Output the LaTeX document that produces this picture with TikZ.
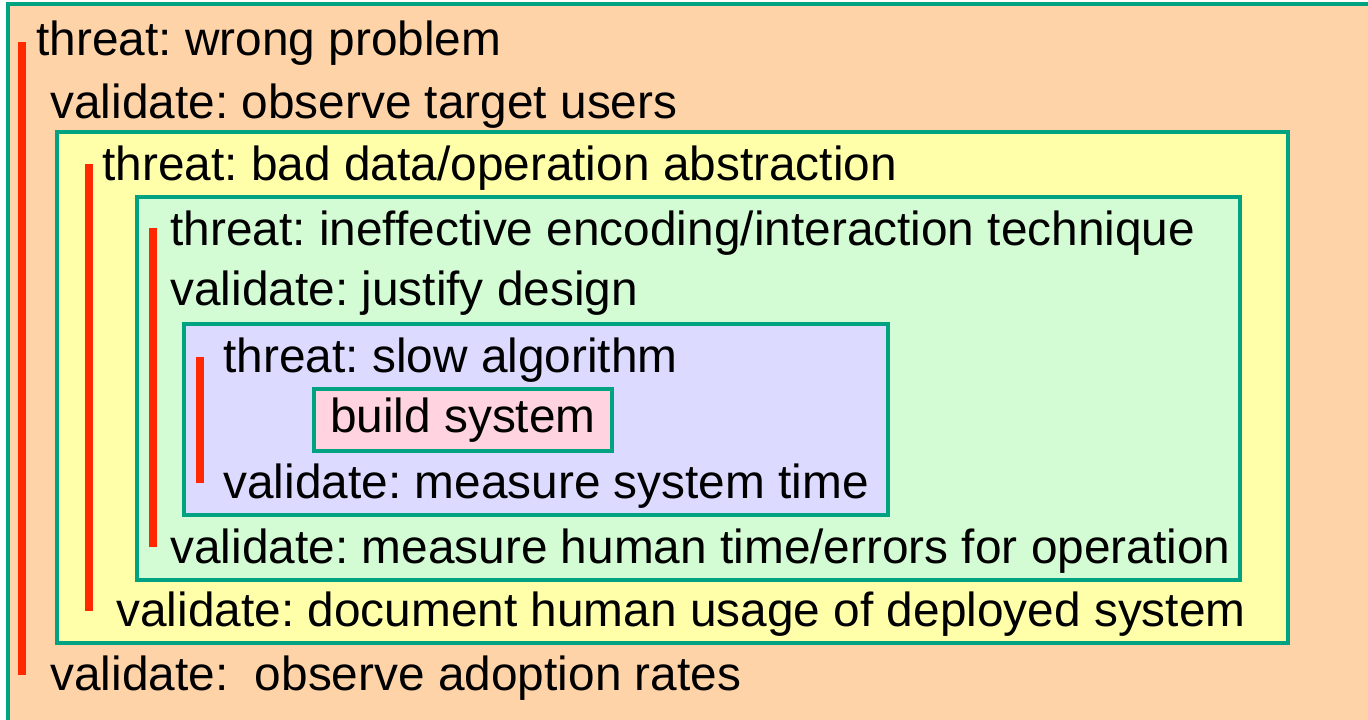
\documentclass[tikz,border=0pt]{standalone}
\usepackage{fontspec}
\setmainfont{Liberation Sans}
\usepackage{tikz}
\usetikzlibrary{calc}
\definecolor{peach}{RGB}{255,211,168}
\definecolor{paleyellow}{RGB}{255,255,170}
\definecolor{palegreen}{RGB}{212,252,212}
\definecolor{lavender}{RGB}{220,218,255}
\definecolor{palepink}{RGB}{255,212,224}
\definecolor{teal}{RGB}{0,163,129}
\definecolor{barred}{RGB}{255,40,0}
\frenchspacing

\begin{document}
\begin{tikzpicture}[x=0.5pt, y=-0.5pt,
		lvl/.style = {draw=teal, line width=2pt},
		txt/.style = {anchor=base west, inner sep=0pt, font=\fontsize{23.9}{28}\selectfont},
		bar/.style = {draw=barred, line width=3.8pt}]
		\useasboundingbox (0,0) rectangle (1368,719);
		\begin{scope}
			\clip (0,0) rectangle (1368,719);
			\path[lvl, fill=peach] (8,4) rectangle (1400,760);
		\end{scope}
		\path[lvl, fill=paleyellow] (57,132) rectangle (1288,643);
		\path[lvl, fill=palegreen] (137,197) rectangle (1240,580);
		\path[lvl, fill=lavender] (184,324) rectangle (888,515);
		% text lines
		\node[txt] (t1) at (36,55) {threat: wrong problem};
		\node[txt] (v1) at (50,118) {validate: observe target users};
		\node[txt] (t2) at (102,180) {threat: bad data/operation abstraction};
		\node[txt] (t3) at (170,245) {threat: ineffective encoding/interaction technique};
		\node[txt] (v3a) at (170,305) {validate: justify design};
		\node[txt] (t4) at (223,372) {threat: slow algorithm};
		\node[txt, draw=teal, line width=2pt, fill=palepink, inner xsep=8pt, inner ysep=0pt,
			minimum height=31pt, anchor=west] (sys) at (312,420) {build system};
		\node[txt] (v4) at (223,498) {validate: measure system time};
		\node[txt] (v3) at (170,563) {validate: measure human time/errors for operation};
		\node[txt] (v2) at (116,626) {validate: document human usage of deployed system};
		\node[txt] (v1b) at (50,690) {validate:~ observe adoption rates};
		% red bars
		\path[bar] (22,42) -- (22,675)
			(89,164) -- (89,611)
			(153,228) -- (153,547)
			(200,357) -- (200,483);
	\end{tikzpicture}
\end{document}
